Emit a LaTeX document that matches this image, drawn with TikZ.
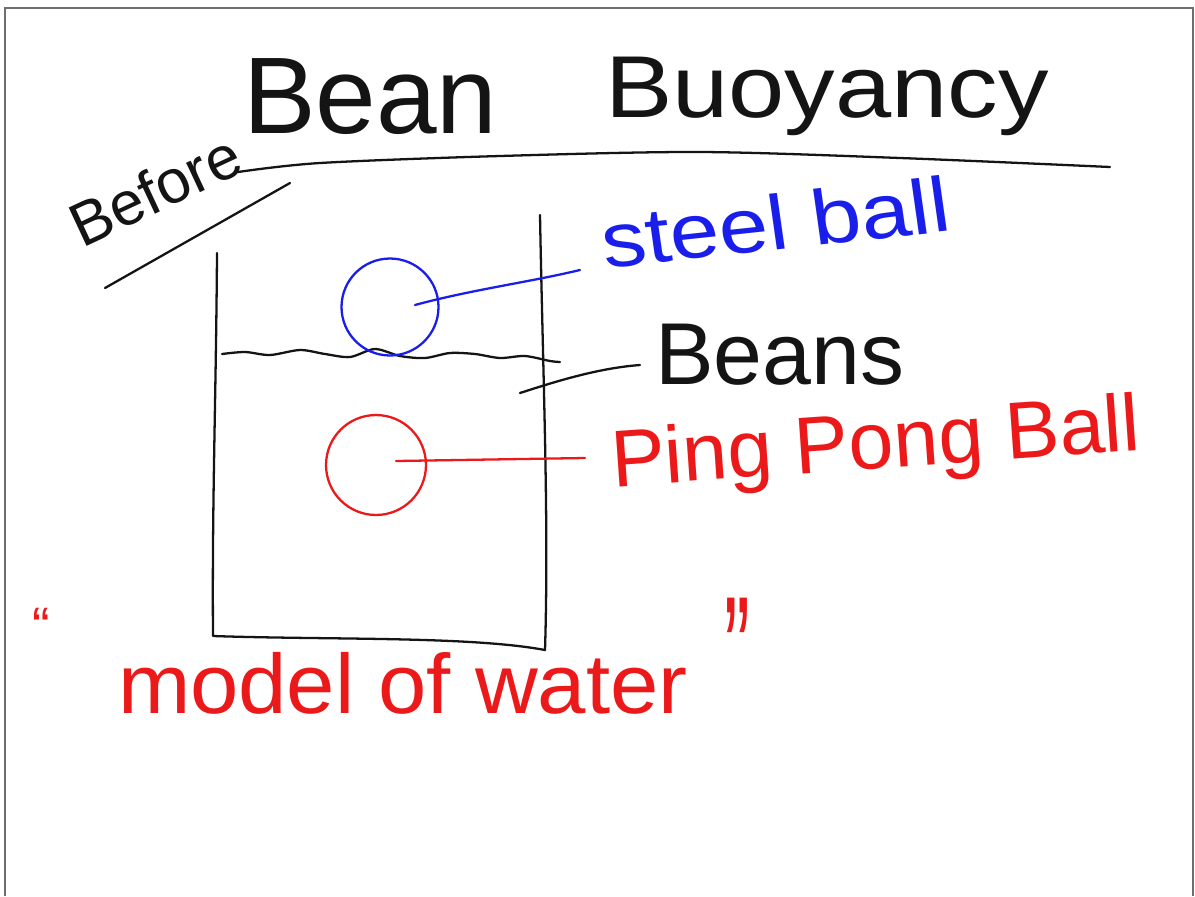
\documentclass[tikz,border=0pt]{standalone}
\usepackage{fontspec}
\setmainfont{Liberation Sans}
\definecolor{inkblack}{RGB}{20,20,20}
\definecolor{inkblue}{RGB}{25,30,235}
\definecolor{inkred}{RGB}{235,25,25}
\definecolor{framegray}{RGB}{110,110,110}
\tikzset{
  ink/.style={line width=1.3pt, line cap=round, line join=round, draw=inkblack},
  blueink/.style={ink, draw=inkblue},
  redink/.style={ink, draw=inkred},
  hand/.style={inner sep=0pt, outer sep=0pt},
}
\newcommand{\fs}[1]{\fontsize{#1}{#1}\selectfont}
\begin{document}
\begin{tikzpicture}[x=0.02cm,y=-0.02cm]
\useasboundingbox[fill=white] (0,0) rectangle (1195,896);
% page frame
\draw[framegray, line width=1.2pt] (5,896) -- (5,8) -- (1193,8) -- (1193,896);

% title
\node[hand, anchor=base west, text=inkblack, font=\fs{62}] (bean) at (243,133) {Bean};
\node[hand, anchor=base west, text=inkblack, font=\fs{50}, xscale=1.15] (buoy) at (605,117) {Buoyancy};
\draw[ink] plot[smooth] coordinates {(238,172) (320,163) (500,156) (700,152) (900,158) (1110,167)};

% Before
\node[hand, anchor=base west, text=inkblack, font=\fs{35}, rotate=25] (before) at (82,248) {Before};
\coordinate (bl1) at (105,288);
\coordinate (bl2) at (290,183);
\draw[ink] (bl1) -- (bl2);

% container
\coordinate (lt) at (217,253);
\coordinate (lb) at (213,636);
\coordinate (rt) at (540,215);
\coordinate (rb) at (545,650);
\draw[ink] (lt) .. controls (216,400) and (212,500) .. (lb)
  .. controls (330,640) and (470,636) .. (rb);
\draw[ink] (rt) .. controls (543,380) and (549,520) .. (rb);

% bean surface
\draw[ink] plot[smooth] coordinates {(222,354) (245,352) (270,355) (300,350) (325,354) (350,357) (375,349) (400,356) (425,358) (450,353) (475,354) (500,358) (525,356) (550,361) (560,362)};

% steel ball
\node[hand, draw=inkblue, line width=1.3pt, circle, minimum size=1.94cm] (steel) at (390,307) {};
\node[hand, anchor=base west, text=inkblue, font=\fs{44}, xscale=1.15, rotate=7] (steellbl) at (605,268) {steel ball};
\coordinate (sa) at (415,305);
\coordinate (sb) at (580,270);
\draw[blueink] (sa) .. controls (470,290) and (530,282) .. (sb);

% beans label
\node[hand, anchor=base west, text=inkblack, font=\fs{50}] (beanslbl) at (655,384) {Beans};
\coordinate (ba) at (520,393);
\coordinate (bb) at (640,365);
\draw[ink] (ba) .. controls (560,380) and (600,368) .. (bb);

% ping pong ball
\node[hand, draw=inkred, line width=1.3pt, circle, minimum size=2.0cm] (pong) at (376,465) {};
\node[hand, anchor=base west, text=inkred, font=\fs{46}, rotate=4] (ponglbl) at (613,487) {Ping Pong Ball};
\coordinate (pa) at (396,461);
\coordinate (pb) at (585,458);
\draw[redink] (pa) -- (pb);

% model of water
\node[hand, anchor=base west, text=inkred, font=\fs{48}, xscale=1.03] (model) at (118,713) {model of water};
\node[hand, anchor=north west, text=inkred, font=\fs{30}] (lq) at (32,608) {“};
\node[hand, anchor=north west, text=inkred, font=\fs{44}, yscale=2] (rq) at (724,598) {”};
\end{tikzpicture}
\end{document}
